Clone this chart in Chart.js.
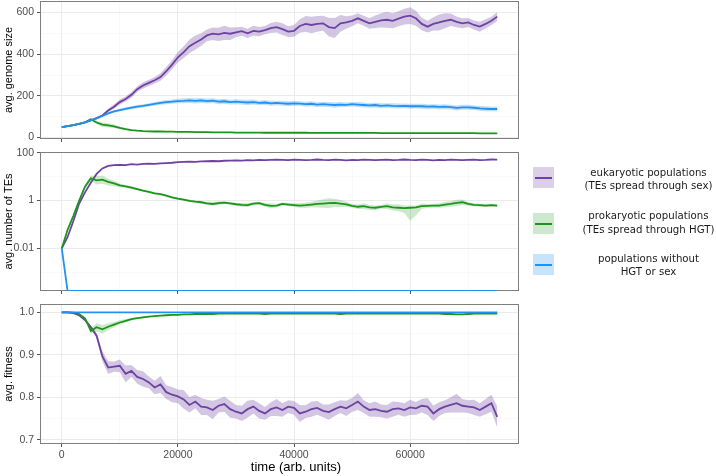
<!DOCTYPE html>
<html>
<head>
<meta charset="utf-8">
<script src="https://cdn.jsdelivr.net/npm/chart.js@4.4.1/dist/chart.umd.min.js"></script>
<style>
  body { margin: 0; background: #fff; }
  #wrap { position: relative; width: 716px; height: 476px; overflow: hidden; font-family: 'Liberation Sans', Arial, sans-serif; }
  .panel { position: absolute; left: 0; width: 530px; }
  .key { position: absolute; left: 533px; width: 21px; height: 21px; }
  .key i { position: absolute; left: 2px; right: 2px; top: 9.5px; height: 2px; }
  .lab { position: absolute; left: 580px; width: 137px; text-align: center; font-family: 'DejaVu Sans', sans-serif; font-size: 10.2px; line-height: 13.4px; color: #1a1a1a; white-space: nowrap; }
  #xtitle { position: absolute; left: 196px; width: 200px; top: 459px; text-align: center; font-size: 13px; color: #000; }
</style>
</head>
<body>
<div id="wrap">
  <div class="panel" style="top:-9px;height:159px"><canvas id="c1" width="530" height="159"></canvas></div>
  <div class="panel" style="top:142px;height:160px"><canvas id="c2" width="530" height="160"></canvas></div>
  <div class="panel" style="top:294px;height:182px"><canvas id="c3" width="530" height="182"></canvas></div>

  <div class="key" style="top:167px;background:rgba(110,66,163,0.25)"><i style="background:#6e42a3"></i></div>
  <div class="lab" style="top:165.6px">eukaryotic populations<br>(TEs spread through sex)</div>
  <div class="key" style="top:213px;background:rgba(26,150,26,0.22)"><i style="background:#1a961a"></i></div>
  <div class="lab" style="top:209.3px">prokaryotic populations<br>(TEs spread through HGT)</div>
  <div class="key" style="top:254px;background:rgba(34,145,242,0.25)"><i style="background:#2291f2"></i></div>
  <div class="lab" style="top:251.6px">populations without<br>HGT or sex</div>

  <div id="xtitle">time (arb. units)</div>
</div>
<script>
// sampled every 1000 time units, 0 .. 75000
const STEP = 1000;
const xTicks = [0, 10000, 20000, 30000, 40000, 50000, 60000, 70000];

// avg. genome size
const eukGenome = [50,55,60,66,73,82,93,106,130,148,
  170,185,205,232,250,262,275,290,318,350,
  385,410,438,455,470,490,498,495,502,498,
  505,510,500,512,508,515,525,530,520,508,
  512,535,545,540,545,548,530,525,548,552,
  560,572,560,548,555,562,565,560,570,580,
  585,572,545,532,545,552,560,565,555,548,
  552,540,532,545,560,580];
const eukGenomeSpread = [1,2,2,3,3,4,5,6,8,10,
  12,12,14,14,15,15,16,18,20,22,
  25,28,32,34,30,28,30,32,34,30,
  24,22,22,24,22,20,24,26,28,26,
  28,32,38,40,38,36,45,48,40,30,
  26,24,24,26,30,34,38,36,36,38,
  40,36,30,28,32,38,36,30,26,24,
  22,22,24,22,20,22];
const proGenome = [50,55,60,66,73,88,72,62,58,54,
  46,40,36,33,31,30,29,29,28,28,
  27,27,27,26,26,26,25,25,25,25,
  24,24,24,24,24,23,23,23,23,23,
  23,23,23,22,22,22,22,22,22,22,
  22,22,22,22,22,21,21,21,21,21,
  21,21,21,21,21,21,21,21,21,21,
  21,21,20,20,20,20];
const proGenomeSpread = [1,1,2,2,3,5,8,10,10,8,
  6,4,3,2,2,2,2,2,1,1,
  1,1,1,1,1,1,1,1,1,1,
  1,1,1,1,1,1,1,1,1,1,
  1,1,1,1,1,1,1,1,1,1,
  1,1,1,1,1,1,1,1,1,1,
  1,1,1,1,1,1,1,1,1,1,
  1,1,1,1,1,1];
const noneGenome = [50,55,60,66,73,82,92,104,116,125,
  132,138,143,148,152,157,162,166,170,172,
  175,176,178,176,178,175,177,172,174,170,
  172,170,168,170,166,168,164,166,164,162,
  164,163,160,162,158,160,158,156,158,157,
  160,158,156,154,156,152,154,152,151,152,
  150,151,150,148,149,147,148,146,142,145,
  145,143,140,138,137,137];
const noneGenomeSpread = [1,1,2,2,2,3,3,4,5,6,
  6,7,7,8,8,8,9,9,10,10,
  11,12,12,13,12,12,11,12,12,11,
  12,12,13,12,11,12,12,11,12,12,
  12,11,12,12,11,12,12,13,12,11,
  11,12,12,11,12,12,11,12,12,11,
  12,11,12,12,11,12,12,11,12,12,
  12,11,12,12,11,12];

// avg. number of TEs (log scale)
const eukTE = [0.01,0.03,0.14,0.75,2.2,5.5,13,22,28,30,
  31,30,33,32,34,35,34,36,37,38,
  40,41,42,41,43,44,45,44,46,47,
  48,47,49,48,50,49,50,51,50,49,
  51,50,49,50,52,50,49,51,50,48,
  50,49,51,50,49,50,51,49,50,52,
  50,49,51,50,48,50,49,51,50,49,
  50,51,49,50,52,51];
const proTE = [0.01,0.06,0.23,1.0,3.8,8.5,7,7.5,6.0,5.2,
  4.3,3.9,3.5,3.0,2.6,2.3,2.0,1.85,1.6,1.35,
  1.2,1.1,0.98,0.9,0.85,0.76,0.72,0.78,0.82,0.76,
  0.7,0.66,0.64,0.74,0.78,0.66,0.6,0.62,0.72,0.68,
  0.65,0.62,0.64,0.68,0.72,0.75,0.78,0.8,0.75,0.7,
  0.6,0.55,0.58,0.52,0.5,0.55,0.58,0.52,0.5,0.48,
  0.5,0.52,0.58,0.6,0.62,0.62,0.68,0.72,0.8,0.85,
  0.72,0.66,0.64,0.62,0.64,0.62];
const proTELow = [1.05,1.1,1.1,1.15,1.2,1.3,1.5,1.5,1.4,1.3,
  1.2,1.15,1.15,1.12,1.12,1.1,1.1,1.1,1.1,1.1,
  1.1,1.1,1.12,1.12,1.15,1.15,1.2,1.2,1.15,1.15,
  1.15,1.2,1.2,1.15,1.15,1.2,1.25,1.2,1.15,1.15,
  1.2,1.25,1.3,1.3,1.4,1.5,1.6,1.5,1.4,1.3,
  1.2,1.25,1.3,1.3,1.25,1.2,1.3,1.35,1.4,1.6,
  3.5,2.2,1.3,1.2,1.2,1.25,1.3,1.3,1.35,1.3,
  1.2,1.15,1.15,1.15,1.15,1.15];
const proTEHigh = [1.05,1.1,1.1,1.15,1.2,1.3,1.5,1.5,1.4,1.3,
  1.2,1.15,1.15,1.12,1.12,1.1,1.1,1.1,1.1,1.1,
  1.1,1.1,1.12,1.12,1.15,1.15,1.2,1.2,1.15,1.15,
  1.15,1.2,1.2,1.15,1.15,1.2,1.25,1.2,1.15,1.15,
  1.2,1.25,1.3,1.3,1.4,1.5,1.6,1.5,1.4,1.3,
  1.2,1.25,1.3,1.3,1.25,1.2,1.3,1.35,1.4,1.3,
  1.25,1.2,1.3,1.2,1.2,1.25,1.3,1.3,1.35,1.3,
  1.2,1.15,1.15,1.15,1.15,1.15];
const noneTE = [0.01,0,0,0,0,0,0,0,0,0,
  0,0,0,0,0,0,0,0,0,0,
  0,0,0,0,0,0,0,0,0,0,
  0,0,0,0,0,0,0,0,0,0,
  0,0,0,0,0,0,0,0,0,0,
  0,0,0,0,0,0,0,0,0,0,
  0,0,0,0,0,0,0,0,0,0,
  0,0,0,0,0,0];

// avg. fitness
const eukFit = [1.0,1.0,0.998,0.993,0.982,0.965,0.945,0.896,0.87,0.872,
  0.874,0.855,0.862,0.848,0.843,0.835,0.823,0.83,0.812,0.806,
  0.802,0.795,0.782,0.79,0.778,0.776,0.77,0.78,0.784,0.772,
  0.766,0.762,0.772,0.778,0.768,0.762,0.772,0.776,0.77,0.778,
  0.775,0.762,0.766,0.772,0.775,0.768,0.765,0.772,0.778,0.774,
  0.782,0.79,0.778,0.77,0.772,0.768,0.766,0.772,0.774,0.77,
  0.776,0.774,0.78,0.778,0.762,0.772,0.778,0.782,0.786,0.78,
  0.778,0.776,0.77,0.778,0.786,0.754];
const eukFitSpread = [0,0,0.001,0.002,0.003,0.004,0.006,0.012,0.015,0.012,
  0.015,0.02,0.014,0.016,0.018,0.014,0.016,0.02,0.016,0.018,
  0.016,0.022,0.018,0.016,0.02,0.018,0.022,0.016,0.018,0.02,
  0.016,0.018,0.02,0.016,0.018,0.015,0.016,0.02,0.016,0.015,
  0.016,0.02,0.015,0.018,0.016,0.015,0.018,0.016,0.015,0.018,
  0.016,0.02,0.015,0.016,0.018,0.015,0.016,0.018,0.015,0.016,
  0.018,0.015,0.016,0.02,0.018,0.016,0.015,0.018,0.022,0.016,
  0.015,0.018,0.016,0.018,0.02,0.025];
const proFit = [1.0,1.0,0.999,0.996,0.986,0.956,0.965,0.96,0.966,0.971,
  0.976,0.98,0.984,0.986,0.988,0.99,0.991,0.992,0.993,0.994,
  0.994,0.995,0.995,0.996,0.996,0.996,0.996,0.997,0.997,0.997,
  0.997,0.997,0.997,0.997,0.997,0.996,0.997,0.997,0.997,0.997,
  0.997,0.997,0.997,0.997,0.997,0.997,0.997,0.997,0.996,0.997,
  0.997,0.997,0.997,0.997,0.997,0.997,0.997,0.997,0.997,0.997,
  0.997,0.997,0.997,0.997,0.997,0.997,0.996,0.996,0.995,0.995,
  0.996,0.997,0.997,0.997,0.997,0.997];
const proFitSpread = [0,0,0.001,0.001,0.002,0.006,0.01,0.01,0.008,0.006,
  0.005,0.004,0.003,0.002,0.002,0.001,0.001,0.001,0.001,0.001,
  0.001,0.001,0.001,0.001,0.001,0.001,0.001,0.001,0.001,0.001,
  0.001,0.001,0.001,0.001,0.001,0.001,0.001,0.001,0.001,0.001,
  0.001,0.001,0.001,0.001,0.001,0.001,0.001,0.001,0.001,0.001,
  0.001,0.001,0.001,0.001,0.001,0.001,0.001,0.001,0.001,0.001,
  0.001,0.001,0.001,0.001,0.001,0.001,0.001,0.001,0.001,0.001,
  0.001,0.001,0.001,0.001,0.001,0.001];
const noneFit = [1,1,1,1,1,1,1,1,1,1,
  1,1,1,1,1,1,1,1,1,1,
  1,1,1,1,1,1,1,1,1,1,
  1,1,1,1,1,1,1,1,1,1,
  1,1,1,1,1,1,1,1,1,1,
  1,1,1,1,1,1,1,1,1,1,
  1,1,1,1,1,1,1,1,1,1,
  1,1,1,1,1,1];

const PURPLE = '#6e42a3', GREEN = '#1a961a', BLUE = '#2291f2';
const PURPLE_BAND = 'rgba(110,66,163,0.3)', GREEN_BAND = 'rgba(26,150,26,0.22)', BLUE_BAND = 'rgba(34,145,242,0.28)';

Chart.defaults.font.family = "'Liberation Sans', Arial, sans-serif";

function pts(arr) { return arr.map((v, i) => ({ x: i * STEP, y: v })); }

function line(arr, color, order) {
  return { data: pts(arr), borderColor: color, borderWidth: 1.8, pointRadius: 0, fill: false, order: order, tension: 0 };
}

function band(lo, hi, color, order) {
  return [
    { data: pts(lo), borderColor: 'rgba(0,0,0,0)', borderWidth: 0, pointRadius: 0, fill: false, order: order },
    { data: pts(hi), borderColor: 'rgba(0,0,0,0)', borderWidth: 0, pointRadius: 0, fill: '-1', backgroundColor: color, order: order }
  ];
}

function gridFor(isMajor) {
  return {
    color: c => (c.tick && isMajor(c.tick.value)) ? '#ebebeb' : '#f5f5f5',
    lineWidth: c => (c.tick && isMajor(c.tick.value)) ? 1 : 0.6,
    tickColor: c => (c.tick && isMajor(c.tick.value)) ? '#555' : 'rgba(0,0,0,0)',
    tickLength: 3,
    drawTicks: true
  };
}

function xAxis(showLabels) {
  const major = v => v % 20000 === 0;
  return {
    type: 'linear', min: -3750, max: 78750,
    afterBuildTicks: s => { s.ticks = xTicks.map(v => ({ value: v })); },
    afterFit: s => { s.height = showLabels ? 32 : 11; },
    grid: gridFor(major),
    border: { display: false },
    ticks: {
      display: showLabels, autoSkip: false, maxRotation: 0, padding: 2,
      color: '#4d4d4d', font: { size: 10.5 },
      callback: v => major(v) ? String(v) : ''
    }
  };
}

function yAxis(cfg) {
  return Object.assign({
    afterBuildTicks: s => { s.ticks = cfg.ticks.map(v => ({ value: v })); },
    afterFit: s => { s.width = 40; },
    grid: gridFor(cfg.major),
    border: { display: false },
    title: { display: true, text: cfg.title, color: '#000', font: { size: 11 }, padding: { top: 2, bottom: 0 } },
    ticks: { autoSkip: false, padding: 3, color: '#4d4d4d', font: { size: 10.5 }, callback: cfg.label }
  }, cfg.scale);
}

// panel frame, drawn under the lines so edge lines stay visible
const boxBorder = {
  id: 'boxBorder',
  beforeDatasetsDraw(chart) {
    const { ctx, chartArea: a } = chart;
    ctx.save();
    ctx.strokeStyle = '#7f7f7f';
    ctx.lineWidth = 1;
    ctx.strokeRect(Math.round(a.left) + 0.5, Math.round(a.top) + 0.5, Math.round(a.right - a.left) - 1, Math.round(a.bottom - a.top) - 1);
    ctx.restore();
  }
};

function makePanel(id, datasets, y, showX) {
  return new Chart(document.getElementById(id), {
    type: 'line',
    data: { datasets: datasets },
    options: {
      responsive: false, animation: false, events: [], parsing: false,
      layout: { padding: { top: 10, right: 11, bottom: 0, left: 0 } },
      plugins: { legend: { display: false }, tooltip: { enabled: false } },
      scales: { x: xAxis(showX), y: y }
    },
    plugins: [boxBorder]
  });
}

const minus = (m, s) => m.map((v, i) => v - s[i]);
const plus = (m, s) => m.map((v, i) => v + s[i]);
const divide = (m, f) => m.map((v, i) => v / f[i]);
const times = (m, f) => m.map((v, i) => v * f[i]);

makePanel('c1', [
  ...band(minus(eukGenome, eukGenomeSpread), plus(eukGenome, eukGenomeSpread), PURPLE_BAND, 6),
  ...band(minus(proGenome, proGenomeSpread), plus(proGenome, proGenomeSpread), GREEN_BAND, 5),
  ...band(minus(noneGenome, noneGenomeSpread), plus(noneGenome, noneGenomeSpread), BLUE_BAND, 4),
  line(eukGenome, PURPLE, 3), line(proGenome, GREEN, 2), line(noneGenome, BLUE, 1)
], yAxis({
  title: 'avg. genome size',
  ticks: [0, 100, 200, 300, 400, 500, 600],
  major: v => v % 200 === 0,
  label: v => v % 200 === 0 ? String(v) : '',
  scale: { type: 'linear', min: -7, max: 655 }
}), false);

makePanel('c2', [
  ...band(divide(proTE, proTELow), times(proTE, proTEHigh), GREEN_BAND, 5),
  line(eukTE, PURPLE, 3), line(proTE, GREEN, 2), line(noneTE, BLUE, 1)
], yAxis({
  title: 'avg. number of TEs',
  ticks: [0.001, 0.01, 0.1, 1, 10, 100],
  major: v => Math.round(Math.log10(v)) % 2 === 0,
  label: v => ({ '100': '100', '1': '1', '0.01': '0.01' })[String(v)] || '',
  scale: { type: 'logarithmic', min: 0.000166, max: 107 }
}), false);

makePanel('c3', [
  ...band(minus(eukFit, eukFitSpread), plus(eukFit, eukFitSpread), PURPLE_BAND, 6),
  ...band(minus(proFit, proFitSpread), plus(proFit, proFitSpread), GREEN_BAND, 5),
  line(eukFit, PURPLE, 3), line(proFit, GREEN, 2), line(noneFit, BLUE, 1)
], yAxis({
  title: 'avg. fitness',
  ticks: [0.7, 0.75, 0.8, 0.85, 0.9, 0.95, 1.0],
  major: v => Math.round(v * 100) % 10 === 0,
  label: v => Math.round(v * 100) % 10 === 0 ? v.toFixed(1) : '',
  scale: { type: 'linear', min: 0.690, max: 1.0195 }
}), true);
</script>
</body>
</html>
